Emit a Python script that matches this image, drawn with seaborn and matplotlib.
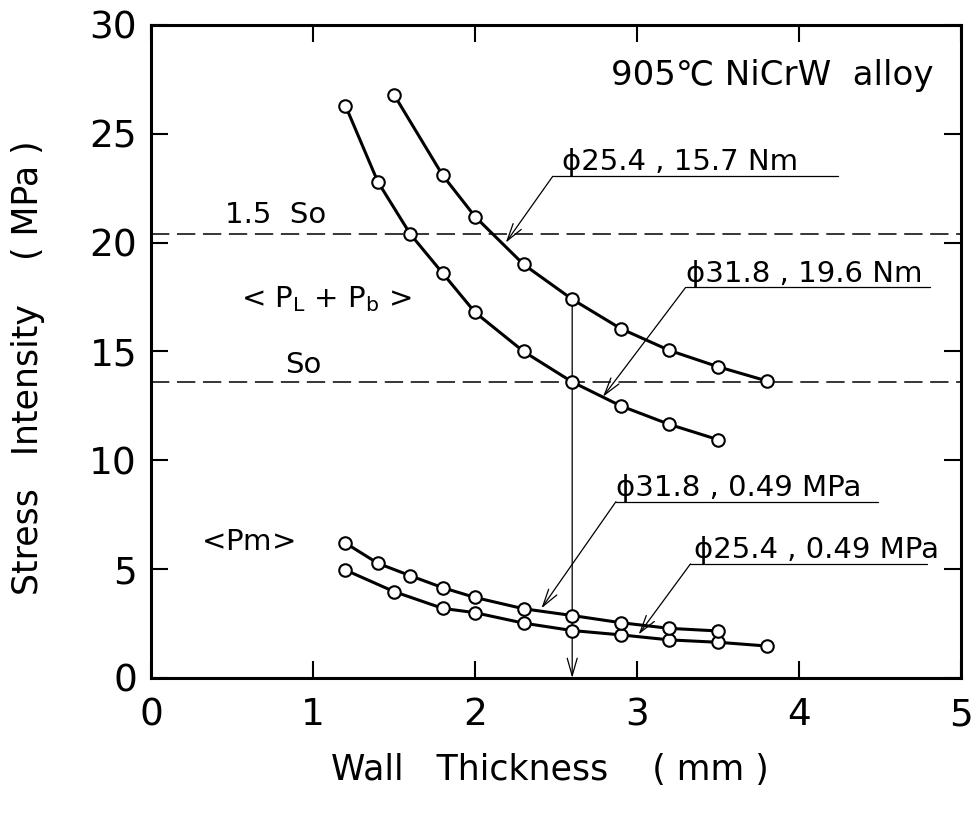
import matplotlib
matplotlib.use("Agg")
import matplotlib.pyplot as plt
import numpy as np
import pandas as pd
import seaborn as sns

# Wall thickness (mm) and stress intensity (MPa) for each tube case
thick_254_torque = [1.5, 1.8, 2.0, 2.3, 2.6, 2.9, 3.2, 3.5, 3.8]
stress_254_torque = [26.8, 23.1, 21.2, 19.0, 17.4, 16.05, 15.05, 14.3, 13.65]

thick_318_torque = [1.2, 1.4, 1.6, 1.8, 2.0, 2.3, 2.6, 2.9, 3.2, 3.5]
stress_318_torque = [26.3, 22.8, 20.4, 18.6, 16.8, 15.0, 13.6, 12.5, 11.65, 10.95]

thick_318_press = [1.2, 1.4, 1.6, 1.8, 2.0, 2.3, 2.6, 2.9, 3.2, 3.5]
stress_318_press = [6.2, 5.27, 4.7, 4.15, 3.7, 3.18, 2.87, 2.54, 2.28, 2.16]

thick_254_press = [1.2, 1.5, 1.8, 2.0, 2.3, 2.6, 2.9, 3.2, 3.5, 3.8]
stress_254_press = [4.96, 3.97, 3.2, 3.0, 2.52, 2.18, 1.98, 1.75, 1.64, 1.47]

curve_names = ["ϕ25.4 , 15.7 Nm", "ϕ31.8 , 19.6 Nm",
               "ϕ31.8 , 0.49 MPa", "ϕ25.4 , 0.49 MPa"]

# Allowable stress levels
so_value = 13.6
so_15_value = 20.4

# Selected design wall thickness
design_thickness = 2.6
design_stress = 17.4

x_ticks = [0, 1, 2, 3, 4, 5]
y_ticks = [0, 5, 10, 15, 20, 25, 30]

df = pd.concat([
    pd.DataFrame({"thickness": t, "stress": s, "curve": n})
    for t, s, n in zip(
        [thick_254_torque, thick_318_torque, thick_318_press, thick_254_press],
        [stress_254_torque, stress_318_torque, stress_318_press, stress_254_press],
        curve_names)
], ignore_index=True)

sns.set_theme(style="ticks")
plt.rcParams["font.family"] = ["DejaVu Sans", "Noto Sans CJK JP"]
plt.rcParams["mathtext.fontset"] = "dejavusans"
plt.rcParams["text.color"] = "black"
plt.rcParams["axes.labelcolor"] = "black"
plt.rcParams["xtick.color"] = "black"
plt.rcParams["ytick.color"] = "black"

fig = plt.figure(figsize=(9.71, 8.14), dpi=100)
ax = fig.add_axes([0.1555, 0.1671, 0.8342, 0.8022])

sns.lineplot(data=df, x="thickness", y="stress", units="curve",
             estimator=None, sort=False, color="black", lw=2.2,
             marker="o", ms=9, mfc="white", mec="black", mew=1.5,
             legend=False, ax=ax, zorder=3)

# Allowable stress lines
for level in (so_value, so_15_value):
    ax.axhline(level, color="black", lw=1.1, ls=(0, (12, 5)), zorder=1)

# Design thickness marker line
ax.annotate("", xy=(design_thickness, 0), xytext=(design_thickness, design_stress),
            arrowprops=dict(arrowstyle="->,head_length=0.7,head_width=0.2",
                            lw=0.9, color="black", shrinkA=0, shrinkB=0,
                            mutation_scale=18), zorder=1)

# Curve labels with leader lines
labels = [
    # text, text x, text y, underline x0, underline x1, underline y, tip x, tip y
    (curve_names[0], 2.54, 23.35, 2.48, 4.24, 23.05, 2.19, 20.0),
    (curve_names[1], 3.30, 18.2, 3.30, 4.81, 17.94, 2.79, 12.92),
    (curve_names[2], 2.87, 8.35, 2.87, 4.49, 8.1, 2.41, 3.2),
    (curve_names[3], 3.35, 5.5, 3.33, 4.79, 5.24, 3.01, 2.0),
]
for text, tx, ty, ux0, ux1, uy, px, py in labels:
    ax.text(tx, ty, text, fontsize=21, ha="left", va="baseline")
    ax.plot([ux0, ux1], [uy, uy], color="black", lw=0.9)
    ax.annotate("", xy=(px, py), xytext=(ux0, uy),
                arrowprops=dict(arrowstyle="->,head_length=0.7,head_width=0.2",
                                lw=0.9, color="black", shrinkA=0, shrinkB=0,
                                mutation_scale=18))

ax.text(0.77, 21.25, "1.5  So", fontsize=21, ha="center", va="center")
ax.text(0.94, 14.4, "So", fontsize=21, ha="center", va="center")
ax.text(1.08, 17.4, r"< P$_\mathregular{L}$ + P$_\mathregular{b}$ >",
        fontsize=21, ha="center", va="center")
ax.text(0.6, 6.25, r"<P$\mathregular{m}$>", fontsize=21, ha="center", va="center")
ax.text(4.83, 27.7, "905℃ NiCrW  alloy", fontsize=24.5, ha="right", va="center")

ax.set_xlim(0, 5)
ax.set_ylim(0, 30)
ax.set_xticks(x_ticks)
ax.set_yticks(y_ticks)
ax.set_xticklabels([str(v) for v in x_ticks])
ax.set_yticklabels([str(v) for v in y_ticks])

for sp in ax.spines.values():
    sp.set_visible(True)
    sp.set_linewidth(2.2)
    sp.set_color("black")

ax.tick_params(direction="in", length=12, width=1.5, top=True, right=True,
               labelsize=27, colors="black")
ax.tick_params(axis="x", pad=14)
ax.tick_params(axis="y", pad=10)

ax.set_xlabel("Wall   Thickness    ( mm )", fontsize=25)
ax.set_ylabel("Stress   Intensity    ( MPa )", fontsize=25)
ax.xaxis.set_label_coords(0.493, -0.115)
ax.yaxis.set_label_coords(-0.131, 0.475)

fig.savefig("out.png", dpi=100, facecolor="white")
